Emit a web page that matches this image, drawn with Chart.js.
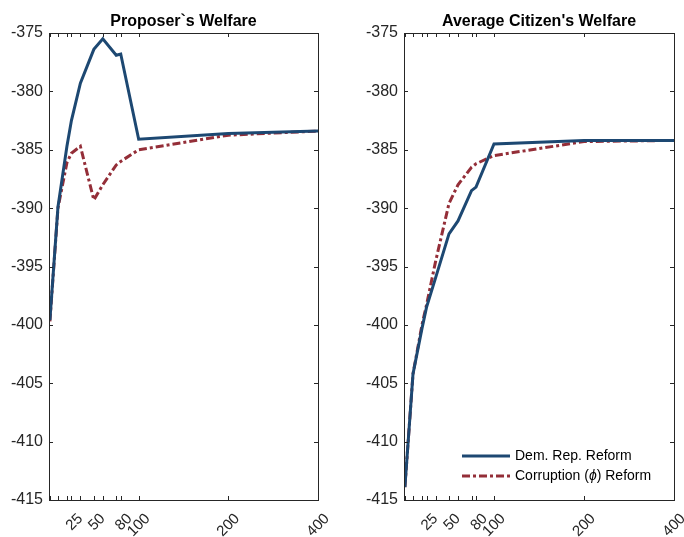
<!DOCTYPE html>
<html>
<head>
<meta charset="utf-8">
<script src="https://cdn.jsdelivr.net/npm/chart.js@4"></script>
<style>
  html, body { margin: 0; padding: 0; background: #fff; }
  #wrap { position: relative; width: 684px; height: 537px; }
  canvas { position: absolute; top: 0; }
</style>
</head>
<body>
<div id="wrap">
  <canvas id="proposer" width="342" height="537" style="left:0"></canvas>
  <canvas id="citizen" width="342" height="537" style="left:342px"></canvas>
</div>
<script>
  // x values of the simulation grid, and which ones get a label
  const xValues = [1, 10, 20, 25, 35, 50, 60, 75, 80, 100, 200, 400];
  const xLabeled = [25, 50, 80, 100, 200, 400];

  // Proposer's welfare
  const proposerDem = [-399.6, -389.9, -384.7, -382.5, -379.3, -376.4, -375.5, -376.9, -376.8, -384.1, -383.6, -383.4];
  const proposerCorr = [-399.7, -390.0, -386.1, -385.3, -384.7, -389.3, -388.0, -386.3, -386.0, -385.0, -383.75, -383.4];

  // Average citizen's welfare
  const citizenDem = [-413.9, -404.2, -400.3, -398.5, -396.0, -392.2, -391.1, -388.5, -388.2, -384.5, -384.2, -384.2];
  const citizenCorr = [-413.9, -404.2, -400.0, -398.3, -394.6, -389.6, -388.0, -386.5, -386.2, -385.5, -384.3, -384.2];

  const blue = 'rgb(29, 72, 114)';
  const red = 'rgb(148, 46, 56)';
  const axisColor = '#262626';
  const font = 'Liberation Sans, Arial, sans-serif';

  // the last grid point (400) is squeezed in the original plot: above 200 the axis runs at half speed
  function axisPos(v) { return v <= 200 ? v : 200 + (v - 200) / 2; }
  function axisVal(p) { return p <= 200 ? p : 200 + (p - 200) * 2; }

  function pts(ys) {
    return xValues.map((v, i) => ({ x: axisPos(v), y: ys[i] }));
  }

  // MATLAB-like box with inward ticks on all sides
  const boxPlugin = {
    id: 'box',
    afterDraw(chart) {
      const { ctx, chartArea: a, scales } = chart;
      ctx.save();
      ctx.strokeStyle = axisColor;
      ctx.lineWidth = 1;
      ctx.strokeRect(Math.round(a.left) + 0.5, Math.round(a.top) + 0.5,
        Math.round(a.right - a.left), Math.round(a.bottom - a.top));
      const t = 4;
      ctx.beginPath();
      scales.x.ticks.forEach(tk => {
        const x = Math.round(scales.x.getPixelForValue(tk.value)) + 0.5;
        ctx.moveTo(x, a.bottom); ctx.lineTo(x, a.bottom - t);
        ctx.moveTo(x, a.top); ctx.lineTo(x, a.top + t);
      });
      scales.y.ticks.forEach(tk => {
        const y = Math.round(scales.y.getPixelForValue(tk.value)) + 0.5;
        ctx.moveTo(a.left, y); ctx.lineTo(a.left + t, y);
        ctx.moveTo(a.right, y); ctx.lineTo(a.right - t, y);
      });
      ctx.stroke();
      // title
      const title = chart.options.plugins.boxTitle.text;
      ctx.fillStyle = '#000';
      ctx.font = 'bold 16px ' + font;
      ctx.textAlign = 'center';
      ctx.textBaseline = 'alphabetic';
      ctx.fillText(title, (a.left + a.right) / 2, a.top - 7);
      ctx.restore();
    }
  };

  // legend drawn inside the lower right corner
  const insideLegend = {
    id: 'insideLegend',
    afterDraw(chart) {
      if (!chart.options.plugins.insideLegend.show) return;
      const { ctx, chartArea: a } = chart;
      ctx.save();
      const x0 = a.left + 58, x1 = x0 + 48, tx = x1 + 5;
      const rows = [a.bottom - 44, a.bottom - 24];
      chart.data.datasets.forEach((ds, i) => {
        const y = rows[i];
        ctx.strokeStyle = ds.borderColor;
        ctx.lineWidth = ds.borderWidth;
        ctx.setLineDash(ds.borderDash || []);
        ctx.beginPath(); ctx.moveTo(x0, y); ctx.lineTo(x1, y); ctx.stroke();
        ctx.setLineDash([]);
        ctx.fillStyle = '#000';
        ctx.textBaseline = 'middle';
        ctx.textAlign = 'left';
        let x = tx;
        ds.legendParts.forEach(p => {
          ctx.font = (p.italic ? 'italic ' : '') + '14px ' + font;
          ctx.fillText(p.text, x, y);
          x += ctx.measureText(p.text).width;
        });
      });
      ctx.restore();
    }
  };

  function makeChart(id, title, dem, corr, yAxisWidth, padRight, showLegend) {
    return new Chart(document.getElementById(id), {
      type: 'line',
      data: {
        datasets: [{
          label: 'Dem. Rep. Reform',
          legendParts: [{ text: 'Dem. Rep. Reform' }],
          data: pts(dem),
          borderColor: blue,
          borderWidth: 3,
          pointRadius: 0,
          tension: 0
        }, {
          label: 'Corruption (ϕ) Reform',
          legendParts: [{ text: 'Corruption (' }, { text: 'ϕ', italic: true }, { text: ') Reform' }],
          data: pts(corr),
          borderColor: red,
          borderWidth: 3,
          borderDash: [8, 3, 3, 3],
          pointRadius: 0,
          tension: 0
        }]
      },
      options: {
        responsive: false,
        animation: false,
        layout: { padding: { top: 33, right: padRight, left: 0, bottom: 0 } },
        plugins: {
          legend: { display: false },
          tooltip: { enabled: false },
          boxTitle: { text: title },
          insideLegend: { show: showLegend }
        },
        scales: {
          x: {
            type: 'linear',
            min: 0,
            max: axisPos(400),
            afterBuildTicks(scale) {
              scale.ticks = xValues.map(v => ({ value: axisPos(v) }));
            },
            afterFit(scale) {
              scale.height = 37;
              scale.paddingLeft = 0;
              scale.paddingRight = 0;
            },
            ticks: {
              autoSkip: false,
              minRotation: 45,
              maxRotation: 45,
              padding: 10,
              labelOffset: 9,
              color: axisColor,
              font: { family: font, size: 15 },
              callback(value) {
                const v = axisVal(value);
                return xLabeled.includes(v) ? String(v) : '';
              }
            },
            grid: { drawOnChartArea: false, drawTicks: false },
            border: { display: false }
          },
          y: {
            min: -415,
            max: -375,
            afterFit(scale) { scale.width = yAxisWidth; },
            ticks: {
              stepSize: 5,
              padding: 6,
              color: axisColor,
              font: { family: font, size: 16 }
            },
            grid: { drawOnChartArea: false, drawTicks: false },
            border: { display: false }
          }
        }
      },
      plugins: [boxPlugin, insideLegend]
    });
  }

  makeChart('proposer', 'Proposer`s Welfare', proposerDem, proposerCorr, 49, 24, false);
  makeChart('citizen', "Average Citizen's Welfare", citizenDem, citizenCorr, 62, 10, true);
</script>
</body>
</html>
